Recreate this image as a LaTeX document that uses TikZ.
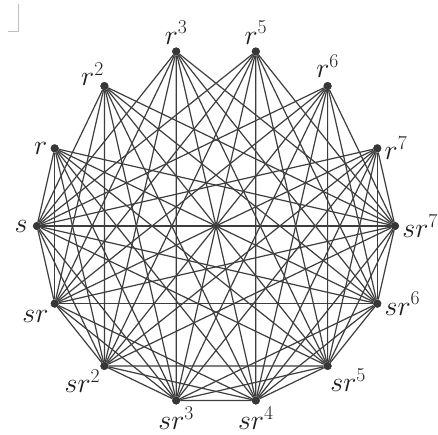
\documentclass[tikz,border=0pt]{standalone}
\usepackage{fix-cm}
\usetikzlibrary{positioning}
\definecolor{edgegray}{RGB}{62,62,62}
\definecolor{dotgray}{RGB}{55,55,55}
\definecolor{labelgray}{RGB}{30,30,30}

\begin{document}
\begin{tikzpicture}[
        x=1pt, y=1pt,
        vtx/.style={circle, fill=dotgray, inner sep=0pt, minimum size=8pt},
        lbl/.style={font=\fontsize{28}{30}\selectfont, text=labelgray, inner sep=1pt},
        edge/.style={draw=edgegray, line width=1.2pt},
        cropmark/.style={draw=black!25, line width=0.8pt},
    ]
    \useasboundingbox[fill=white] (0,0) rectangle (438,435);

    % ===== crop mark =====
    \draw[cropmark] (18,431) -- (18,404) -- (8,404);

    % ===== vertices on a regular 14-gon =====
    \begin{scope}[shift={(216,209)}]
        \foreach \n/\k/\t/\p/\d in {s7/0/{sr^7}/right/2pt, r7/1/{r^7}/right/2pt,
                r6/2/{r^6}/above/3pt, r5/3/{r^5}/above/2pt, r3/4/{r^3}/above/2pt,
                r2/5/{r^2}/above left/-5pt, r1/6/r/left/2pt, s0/7/s/left/4pt,
                s1/8/{sr}/below left/3pt, s2/9/{sr^2}/below left/0pt,
                s3/10/{sr^3}/below/1pt, s4/11/{sr^4}/below/1pt,
                s5/12/{sr^5}/below right/-2pt, s6/13/{sr^6}/right/2pt}
            \node[vtx, label={[lbl, label distance=\d]\p:$\t$}] (\n) at (\k*360/14:179) {};
    \end{scope}

    % ===== rotations -- reflections =====
    \foreach \a in {1,2,3,5,6,7}
        \foreach \b in {0,...,7}
            \draw[edge] (r\a) -- (s\b);

    % ===== reflections -- reflections (sr^i, sr^{i+4} commute) =====
    \foreach \a in {0,...,6}{
        \pgfmathtruncatemacro\lo{\a+1}
        \foreach \b in {\lo,...,7}{
            \pgfmathtruncatemacro\gap{\b-\a}
            \ifnum\gap=4\relax\else
                \draw[edge] (s\a) -- (s\b);
            \fi
        }
    }

    % dots on top of the edges
    \foreach \n in {r1,r2,r3,r5,r6,r7,s0,s1,s2,s3,s4,s5,s6,s7}
        \fill[dotgray] (\n) circle (4pt);
\end{tikzpicture}
\end{document}
